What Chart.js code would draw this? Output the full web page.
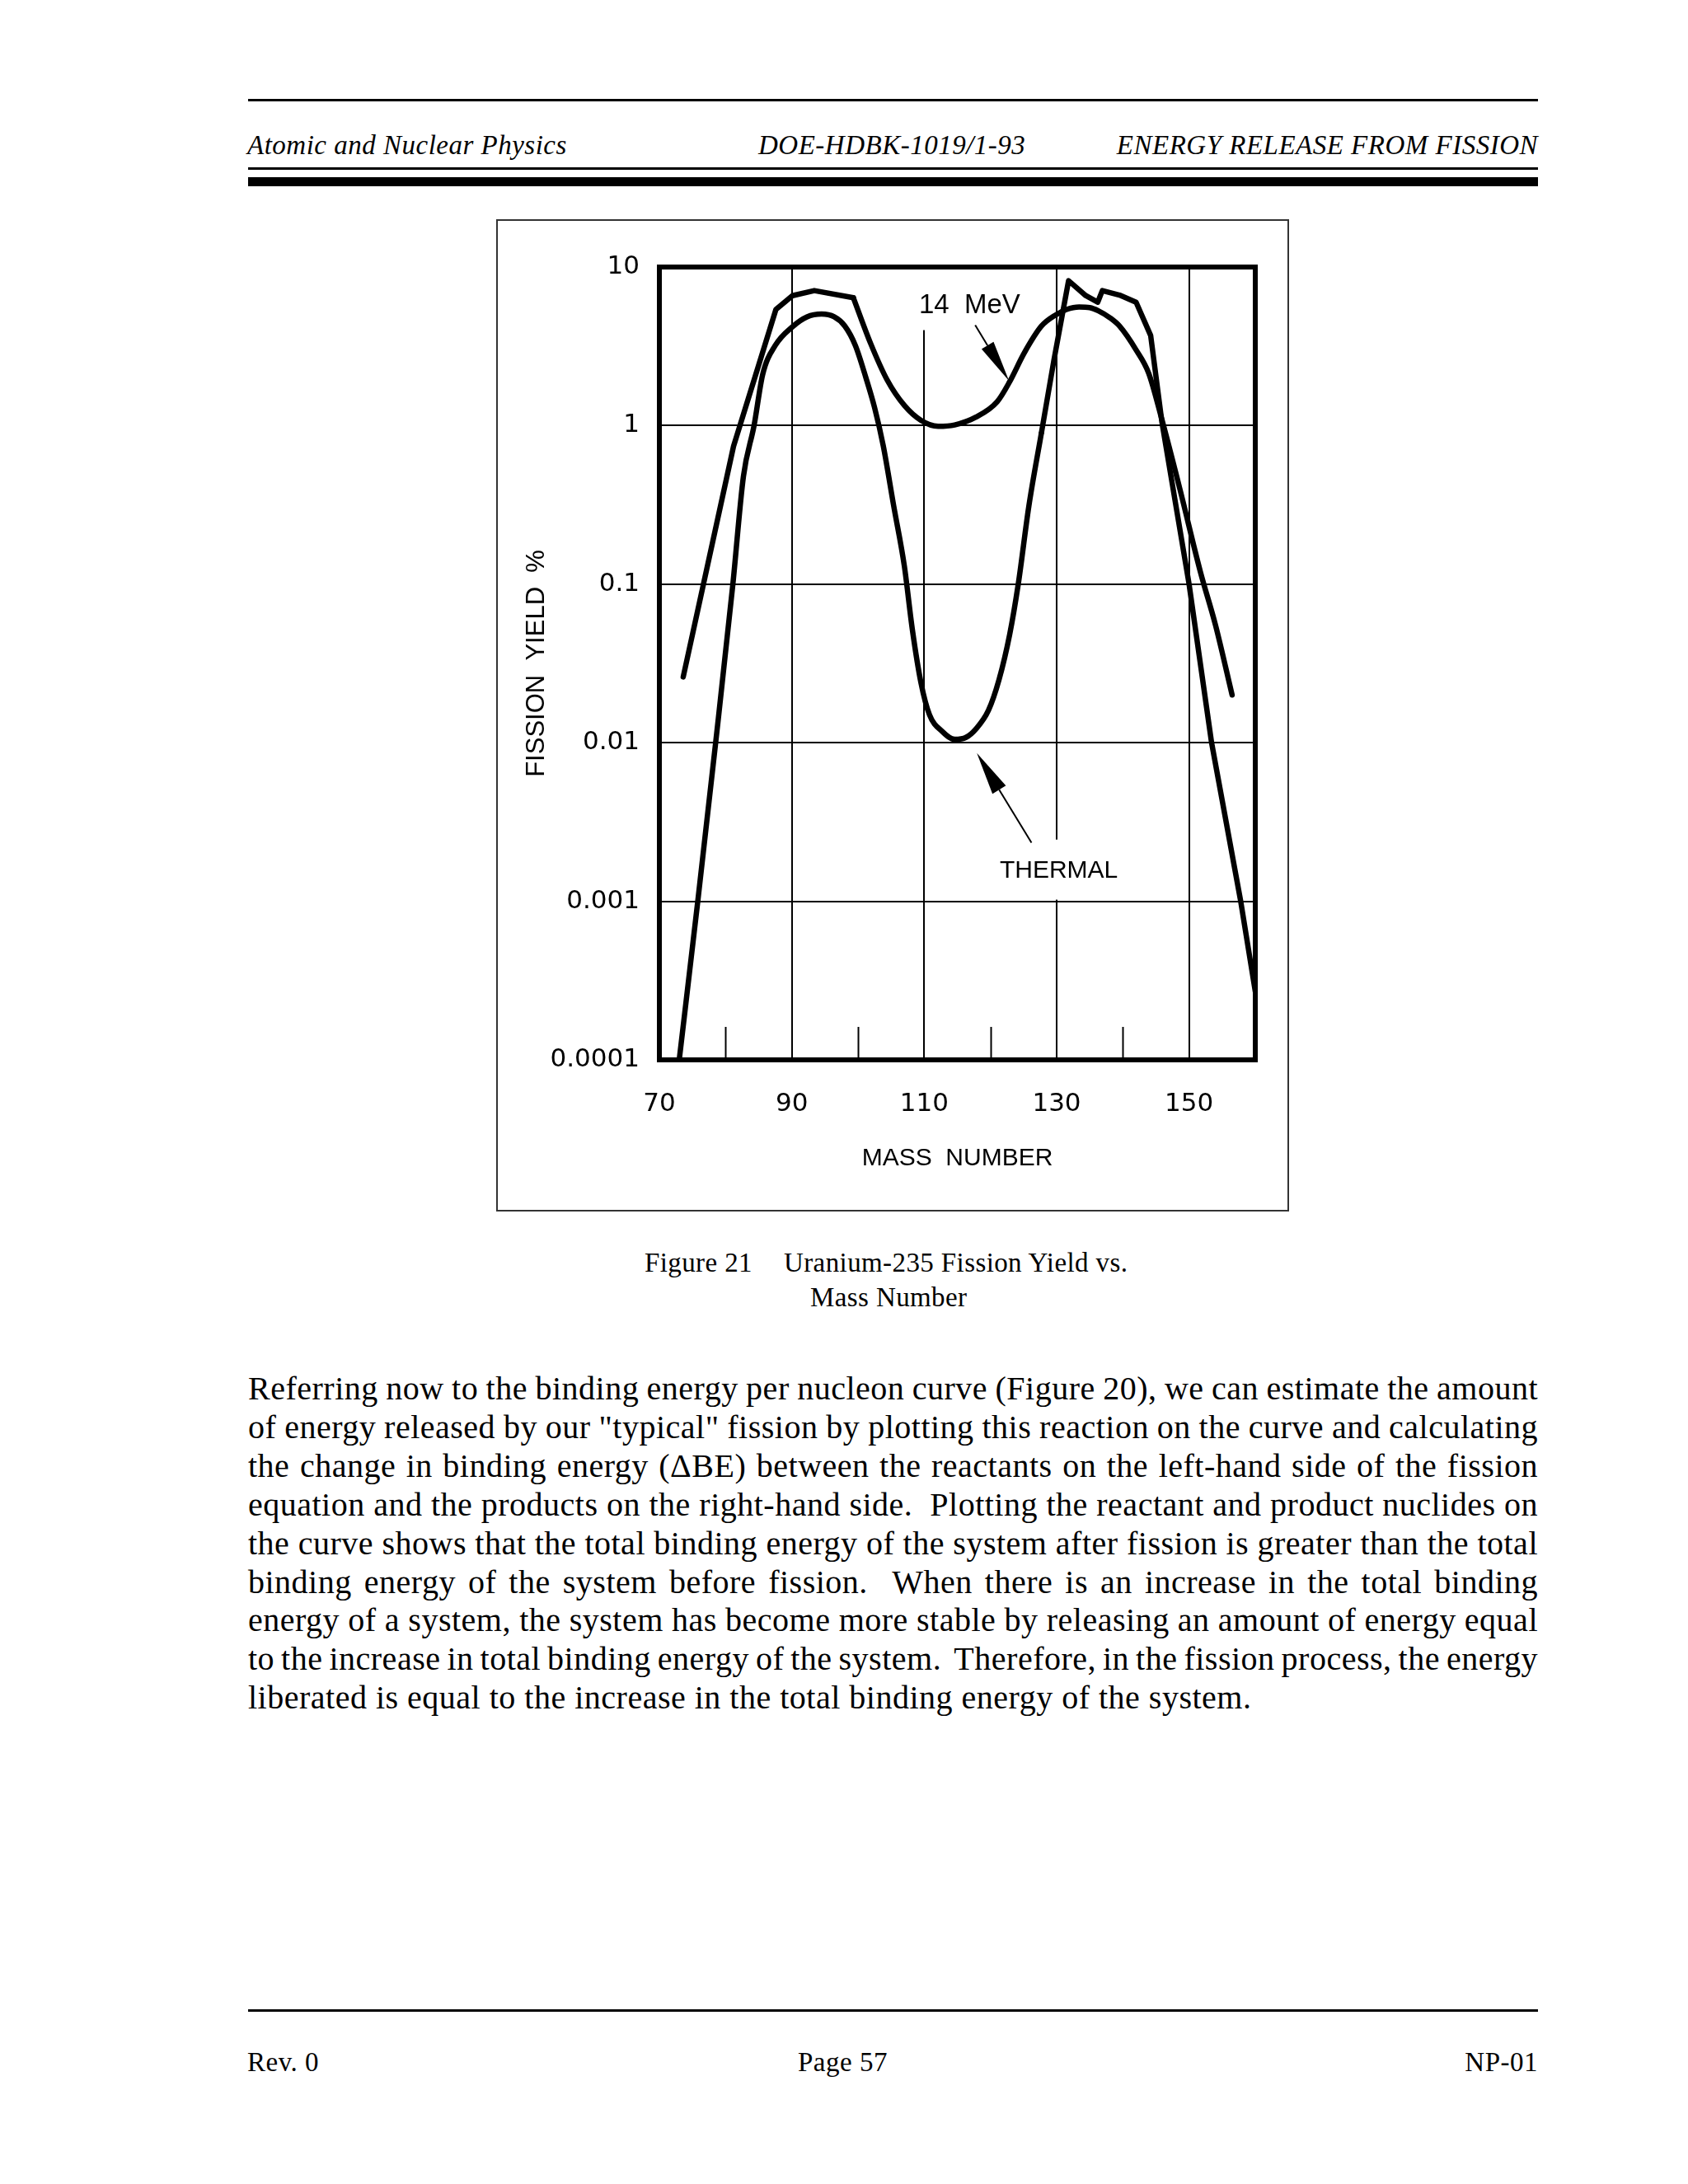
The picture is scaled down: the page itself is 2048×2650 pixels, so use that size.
<!DOCTYPE html>
<html>
<head>
<meta charset="utf-8">
<script src="https://cdn.jsdelivr.net/npm/chart.js@4.4.1/dist/chart.umd.min.js"></script>
<style>
    html, body { margin: 0; padding: 0; background: #fff; }
    #page { position: relative; width: 2048px; height: 2650px; background: #fff; color: #000;
            font-family: "Liberation Serif", "Times New Roman", serif; overflow: hidden; }
    .rule { position: absolute; left: 301px; width: 1565px; background: #000; }
    .hdr { position: absolute; top: 156px; font-size: 33px; line-height: 40px; font-style: italic;
           letter-spacing: 0.5px; white-space: nowrap; }
    .ftr { position: absolute; top: 2482px; font-size: 33px; line-height: 40px; letter-spacing: 0.5px; white-space: nowrap; }
    .cap { position: absolute; font-size: 33px; line-height: 40px; letter-spacing: 0.4px; white-space: nowrap; }
    #figbox { position: absolute; left: 602px; top: 266px; width: 962px; height: 1204px;
              border: 2px solid #333; box-sizing: border-box; }
    #chartWrap { position: absolute; left: 603px; top: 267px; width: 960px; height: 1202px; }
    .line { position: absolute; left: 301px; width: 1565px; font-size: 40px; line-height: 46.9px;
            letter-spacing: 0.5px; white-space: pre; }
</style>
</head>
<body>
<div id="page">
    <div class="rule" style="top:120px;height:3px"></div>
    <div class="hdr" style="left:300px">Atomic and Nuclear Physics</div>
    <div class="hdr" style="left:920px">DOE-HDBK-1019/1-93</div>
    <div class="hdr" style="right:182px">ENERGY RELEASE FROM FISSION</div>
    <div class="rule" style="top:203px;height:3px"></div>
    <div class="rule" style="top:215px;height:11px"></div>

    <div id="figbox"></div>
    <div id="chartWrap"><canvas id="yieldChart" width="960" height="1202"></canvas></div>

    <div class="cap" style="left:782px;top:1512px">Figure 21</div>
    <div class="cap" style="left:951px;top:1512px">Uranium-235 Fission Yield vs.</div>
    <div class="cap" style="left:983px;top:1554px">Mass Number</div>

    <div id="body"></div>

    <div class="rule" style="top:2438px;height:3px"></div>
    <div class="ftr" style="left:300px">Rev. 0</div>
    <div class="ftr" style="left:968px">Page 57</div>
    <div class="ftr" style="right:182px">NP-01</div>
</div>

<script>
// mass number axis
const massTicks = [70, 90, 110, 130, 150];
const minorMassTicks = [80, 100, 120, 140];
// fission yield axis (%)
const yieldTicks = [0.0001, 0.001, 0.01, 0.1, 1, 10];
const yieldTickLabels = ['0.0001', '0.001', '0.01', '0.1', '1', '10'];

// thermal neutron fission of U-235
const thermalMass = [73.0, 75.8, 78.5, 81.1, 82.7, 84.3, 85.6, 87.5, 90.1, 92.3, 94.5, 96.4, 98.0, 99.6,
    101.2, 102.5, 103.8, 105.4, 107.0, 108.2, 109.5, 110.8, 112.7, 114.6, 116.3, 117.8, 119.7, 121.3,
    122.9, 124.2, 125.8, 127.7, 129.6, 131.8, 134.4, 136.2, 136.9, 139.5, 142.0, 144.2, 145.9, 150.0,
    153.4, 157.8, 160.0];
const thermalYield = [0.0001, 0.001, 0.01, 0.1, 0.48, 1.0, 2.1, 3.2, 4.2, 4.85, 5.05, 4.85, 4.25, 3.2,
    2.0, 1.3, 0.75, 0.31, 0.13, 0.052, 0.024, 0.015, 0.0118, 0.0105, 0.0108, 0.0122, 0.016, 0.025,
    0.048, 0.1, 0.31, 0.9, 2.6, 8.2, 6.6, 6.0, 7.1, 6.65, 6.0, 3.7, 1.05, 0.1,
    0.01, 0.001, 0.00027];

// 14 MeV neutron fission of U-235
const mevMass = [73.6, 81.2, 87.6, 90.1, 93.4, 99.3, 101.9, 104.4, 107.0, 109.5, 112.1, 114.6, 117.8,
    121.0, 122.9, 125.1, 127.7, 129.9, 131.5, 133.4, 135.0, 136.3, 138.0, 139.5, 142.0, 143.9, 145.8,
    148.6, 151.7, 154.0, 156.5];
const mevYield = [0.026, 0.74, 5.4, 6.6, 7.1, 6.4, 3.3, 1.94, 1.34, 1.08, 0.99, 1.01, 1.13,
    1.41, 1.89, 2.87, 4.24, 5.0, 5.4, 5.6, 5.55, 5.3, 4.8, 4.24, 3.0, 2.14, 1.13,
    0.4, 0.12, 0.055, 0.02];

// where each curve switches between drawn-smooth and ruled (straight) pieces
const thermalRuledFrom = 31;   // from A = 127.7 on the thermal curve is ruled
const mevRuledTo = 5;          // up to A = 99.3 the 14 MeV curve is ruled

// callouts, in data units
const mevLabel = { text: '14  MeV', mass: 109.2, value: 5.1 };
const mevArrow = { from: [117.7, 4.3], to: [122.8, 1.92] };
const thermalLabel = { text: 'THERMAL', mass: 121.4, value: 0.0014 };
const thermalArrow = { from: [126.2, 0.00234], to: [117.95, 0.0086] };

const bodyLines = [
    'Referring now to the binding energy per nucleon curve (Figure 20), we can estimate the amount',
    'of energy released by our "typical" fission by plotting this reaction on the curve and calculating',
    'the change in binding energy (\u0394BE) between the reactants on the left-hand side of the fission',
    'equation and the products on the right-hand side.  Plotting the reactant and product nuclides on',
    'the curve shows that the total binding energy of the system after fission is greater than the total',
    'binding energy of the system before fission.  When there is an increase in the total binding',
    'energy of a system, the system has become more stable by releasing an amount of energy equal',
    'to the increase in total binding energy of the system.  Therefore, in the fission process, the energy',
    'liberated is equal to the increase in the total binding energy of the system.'
];

// body paragraph, justified line by line
const body = document.getElementById('body');
bodyLines.forEach(function (txt, i) {
    const div = document.createElement('div');
    div.className = 'line';
    div.style.top = (1662 + i * 46.9) + 'px';
    const span = document.createElement('span');
    span.textContent = txt;
    div.appendChild(span);
    body.appendChild(div);
    if (i < bodyLines.length - 1) {
        const spaces = (txt.match(/ /g) || []).length;
        const extra = (1565 - span.getBoundingClientRect().width) / spaces;
        span.style.wordSpacing = extra + 'px';
    }
});

function drawArrow(ctx, x0, y0, x1, y1, headLen, headW) {
    const ang = Math.atan2(y1 - y0, x1 - x0);
    const bx = x1 - headLen * Math.cos(ang);
    const by = y1 - headLen * Math.sin(ang);
    ctx.beginPath();
    ctx.moveTo(x0, y0);
    ctx.lineTo(bx, by);
    ctx.stroke();
    const nx = -Math.sin(ang) * headW / 2;
    const ny = Math.cos(ang) * headW / 2;
    ctx.beginPath();
    ctx.moveTo(x1, y1);
    ctx.lineTo(bx + nx, by + ny);
    ctx.lineTo(bx - nx, by - ny);
    ctx.closePath();
    ctx.fill();
}

const figureMarks = {
    id: 'figureMarks',
    beforeDatasetsDraw(chart) {
        const { ctx, chartArea: a, scales: { x, y } } = chart;
        ctx.save();
        // grid gaps behind the labels
        ctx.fillStyle = '#fff';
        let gx = x.getPixelForValue(110);
        ctx.fillRect(gx - 3, a.top, 6, y.getPixelForValue(4.0) - a.top);
        gx = x.getPixelForValue(130);
        const g0 = y.getPixelForValue(0.00245);
        const g1 = y.getPixelForValue(0.001);
        ctx.fillRect(gx - 3, g0, 6, g1 - g0 - 2);
        // minor ticks on the bottom edge
        ctx.strokeStyle = '#000';
        ctx.lineWidth = 2;
        minorMassTicks.forEach(function (v) {
            const px = Math.round(x.getPixelForValue(v)) + 0.5;
            ctx.beginPath();
            ctx.moveTo(px, a.bottom);
            ctx.lineTo(px, a.bottom - 40);
            ctx.stroke();
        });
        ctx.restore();
    },
    afterDatasetsDraw(chart) {
        const { ctx, chartArea: a, scales: { x, y } } = chart;
        ctx.save();
        ctx.strokeStyle = '#000';
        ctx.lineWidth = 6;
        ctx.strokeRect(a.left, a.top, a.right - a.left, a.bottom - a.top);

        ctx.fillStyle = '#000';
        ctx.textBaseline = 'alphabetic';
        ctx.textAlign = 'left';
        ctx.font = '33px "Liberation Sans"';
        ctx.fillText(mevLabel.text, x.getPixelForValue(mevLabel.mass), y.getPixelForValue(mevLabel.value));
        ctx.font = '30px "Liberation Sans"';
        ctx.fillText(thermalLabel.text, x.getPixelForValue(thermalLabel.mass), y.getPixelForValue(thermalLabel.value));

        ctx.lineWidth = 2;
        drawArrow(ctx, x.getPixelForValue(mevArrow.from[0]), y.getPixelForValue(mevArrow.from[1]),
            x.getPixelForValue(mevArrow.to[0]), y.getPixelForValue(mevArrow.to[1]), 50, 17);
        drawArrow(ctx, x.getPixelForValue(thermalArrow.from[0]), y.getPixelForValue(thermalArrow.from[1]),
            x.getPixelForValue(thermalArrow.to[0]), y.getPixelForValue(thermalArrow.to[1]), 52, 19);
        ctx.restore();
    }
};

function toPoints(xs, ys, from, to) {
    return xs.slice(from, to).map(function (v, i) { return { x: v, y: ys[from + i] }; });
}

function curve(label, points, smooth) {
    return {
        label: label,
        data: points,
        borderColor: '#000',
        borderWidth: 6.5,
        pointRadius: 0,
        fill: false,
        tension: smooth ? 0.4 : 0,
        cubicInterpolationMode: smooth ? 'monotone' : 'default',
        borderJoinStyle: 'round',
        borderCapStyle: 'round'
    };
}

new Chart(document.getElementById('yieldChart'), {
    type: 'line',
    data: {
        datasets: [
            curve('THERMAL', toPoints(thermalMass, thermalYield, 0, thermalRuledFrom + 1), true),
            curve('THERMAL', toPoints(thermalMass, thermalYield, thermalRuledFrom, thermalMass.length), false),
            curve('14 MeV', toPoints(mevMass, mevYield, 0, mevRuledTo + 1), false),
            curve('14 MeV', toPoints(mevMass, mevYield, mevRuledTo, mevMass.length), true)
        ]
    },
    options: {
        responsive: false,
        animation: false,
        layout: { padding: { top: 57, right: 40, left: 0, bottom: 0 } },
        plugins: { legend: { display: false }, tooltip: { enabled: false } },
        scales: {
            x: {
                type: 'linear',
                min: 70,
                max: 160,
                afterBuildTicks: function (s) { s.ticks = massTicks.map(function (v) { return { value: v }; }); },
                afterFit: function (s) { s.height = 183; },
                grid: { color: '#000', lineWidth: 2, drawTicks: false },
                border: { display: false },
                ticks: { padding: 35, color: '#000', autoSkip: false, maxRotation: 0,
                         font: { family: 'DejaVu Sans', size: 31 } },
                title: { display: true, text: 'MASS  NUMBER', color: '#000',
                         font: { family: 'Liberation Sans', size: 30 }, padding: { top: 0, bottom: 45 } }
            },
            y: {
                type: 'logarithmic',
                min: 0.0001,
                max: 10,
                afterBuildTicks: function (s) { s.ticks = yieldTicks.map(function (v) { return { value: v }; }); },
                afterFit: function (s) { s.width = 197; },
                grid: { color: '#000', lineWidth: 2, drawTicks: false },
                border: { display: false },
                ticks: { padding: 24, color: '#000', autoSkip: false,
                         font: { family: 'DejaVu Sans', size: 31 },
                         callback: function (value) { return yieldTickLabels[yieldTicks.indexOf(value)]; } },
                title: { display: true, text: 'FISSION  YIELD  %', color: '#000',
                         font: { family: 'Liberation Sans', size: 31 }, padding: { top: 30, bottom: 0 } }
            }
        }
    },
    plugins: [figureMarks]
});
</script>
</body>
</html>
